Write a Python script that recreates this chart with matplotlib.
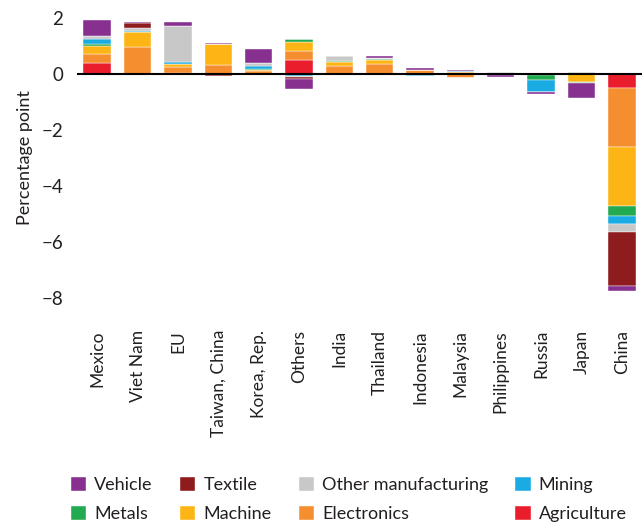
import numpy as np
import matplotlib
matplotlib.use("Agg")
import matplotlib.pyplot as plt

plt.rcParams['font.family'] = ['Lato', 'DejaVu Sans']

# Countries (x axis)
countries = ['Mexico', 'Viet Nam', 'EU', 'Taiwan, China', 'Korea, Rep.', 'Others',
             'India', 'Thailand', 'Indonesia', 'Malaysia', 'Philippines',
             'Russia', 'Japan', 'China']

# Contributions by sector, percentage points
agriculture = [0.38, 0.00, 0.03, 0.00, 0.00, 0.51, 0.00, 0.00, 0.00, 0.00, 0.00, 0.00, 0.00, -0.51]
electronics = [0.32, 0.96, 0.22, 0.32, 0.10, 0.30, 0.30, 0.36, 0.14, -0.15, 0.00, -0.03, 0.00, -2.09]
machine = [0.29, 0.54, 0.11, 0.75, 0.06, 0.32, 0.12, 0.14, 0.02, 0.08, -0.03, 0.00, -0.27, -2.11]
metals = [0.08, 0.00, 0.00, 0.00, 0.03, 0.12, 0.06, 0.03, 0.00, 0.01, 0.00, -0.17, -0.05, -0.37]
mining = [0.17, 0.04, 0.07, 0.00, 0.08, -0.08, 0.00, 0.02, -0.06, 0.03, 0.02, -0.45, 0.00, -0.26]
other_manuf = [0.13, 0.12, 1.29, 0.02, 0.12, -0.03, 0.16, 0.03, 0.00, 0.00, 0.05, 0.00, 0.06, -0.31]
textile = [0.00, 0.17, 0.00, -0.06, 0.00, -0.07, 0.00, 0.00, 0.00, 0.00, 0.00, 0.00, 0.00, -1.92]
vehicle = [0.56, 0.04, 0.13, 0.03, 0.50, -0.37, -0.05, 0.05, 0.04, 0.03, -0.06, -0.07, -0.55, -0.18]

# stacking order, bottom (nearest zero) to top
sectors = [
    ('Agriculture', agriculture, '#EA1D2C'),
    ('Electronics', electronics, '#F58E2E'),
    ('Machine', machine, '#FDB515'),
    ('Metals', metals, '#22AA50'),
    ('Mining', mining, '#1AABE2'),
    ('Other manufacturing', other_manuf, '#C8C8C8'),
    ('Textile', textile, '#8E1B1E'),
    ('Vehicle', vehicle, '#873090'),
]

fig = plt.figure(figsize=(6.42, 5.29), dpi=100)
ax = fig.add_axes([0.12, 0.4208, 0.88, 0.561])

x = np.arange(len(countries))
pos_base = np.zeros(len(countries))
neg_base = np.zeros(len(countries))
handles = {}
for name, vals, color in sectors:
    v = np.array(vals)
    pos = np.where(v > 0, v, 0)
    neg = np.where(v < 0, v, 0)
    h = ax.bar(x, pos, 0.68, bottom=pos_base, color=color, edgecolor='white', linewidth=0.3)
    ax.bar(x, neg, 0.68, bottom=neg_base, color=color, edgecolor='white', linewidth=0.3)
    pos_base += pos
    neg_base += neg
    handles[name] = h

ax.axhline(0, color='black', linewidth=1.5, zorder=5)

ax.set_xlim(-0.5, 13.5)
ax.set_ylim(-8.3, 2.3)
ax.set_yticks([2, 0, -2, -4, -6, -8])
ax.set_yticklabels(['2', '0', '\u22122', '\u22124', '\u22126', '\u22128'])
ax.set_xticks(x)
ax.set_xticklabels(countries, rotation=90, va='top', ha='center')
ax.tick_params(axis='x', length=0, pad=17, labelsize=12.5, colors='#231F20')
ax.tick_params(axis='y', length=0, pad=10, labelsize=13.5, colors='#231F20')
for s in ax.spines.values():
    s.set_visible(False)
ax.set_ylabel('Percentage point', fontsize=13, color='#231F20', labelpad=6)

# legend: 2 rows x 4 columns
order = ['Vehicle', 'Metals', 'Textile', 'Machine',
         'Other manufacturing', 'Electronics', 'Mining', 'Agriculture']
fig.legend([handles[k] for k in order], order, ncol=4, loc='lower left',
           bbox_to_anchor=(0.085, -0.018), frameon=False, fontsize=13,
           handlelength=0.85, handleheight=0.85, handletextpad=0.45,
           columnspacing=1.5, labelspacing=0.7, labelcolor='#231F20')

fig.savefig('out.png', dpi=100)
